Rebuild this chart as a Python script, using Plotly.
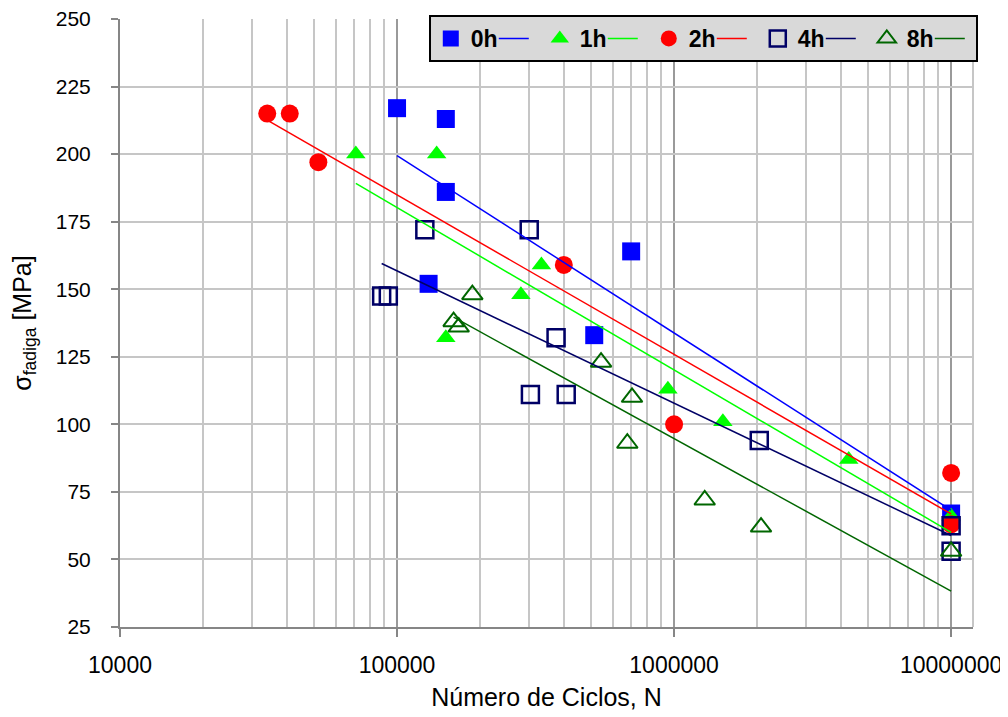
import numpy as np
import plotly.graph_objects as go

# ---- data ----
n_0h = [100000, 150000, 150000, 130000, 700000, 515000, 10000000]
s_0h = [217, 213, 186, 152, 164, 133, 67]

n_1h = [71000, 139000, 150000, 280000, 332000, 950000, 1500000, 4270000, 10000000]
s_1h = [200, 200, 132, 148, 159, 113, 101, 87, 66]

n_2h = [34000, 41000, 52000, 400000, 1000000, 10000000, 10000000]
s_2h = [215, 215, 197, 159, 100, 82, 63]

n_4h = [88000, 93000, 126000, 300000, 375000, 303000, 408000, 2030000, 10000000, 10000000]
s_4h = [147.5, 147.5, 172, 172, 132, 111, 111, 94, 62.5, 53]

n_8h = [187000, 160000, 167000, 545000, 705000, 678000, 1290000, 2060000, 10000000]
s_8h = [148, 138, 136, 123, 110, 93, 72, 62, 53]

series_names = ["0h", "1h", "2h", "4h", "8h"]
x_tickvals = [10000, 100000, 1000000, 10000000]
x_ticktext = ["10000", "100000", "1000000", "10000000"]
y_tickvals = [25, 50, 75, 100, 125, 150, 175, 200, 225, 250]

# ---- styles ----
styles = [
    dict(symbol="square", color="#0000FF", size=18, line=dict(width=0)),
    dict(symbol="triangle-up", color="#00FF00", size=17, line=dict(width=0)),
    dict(symbol="circle", color="#FF0000", size=18, line=dict(width=0)),
    dict(symbol="square-open", color="#000066", size=17, line=dict(width=2.5, color="#000066")),
    dict(symbol="triangle-up-open", color="#006600", size=18, line=dict(width=2, color="#006600")),
]
line_colors = ["#0000FF", "#00FF00", "#FF0000", "#000066", "#006600"]

data = [(n_0h, s_0h), (n_1h, s_1h), (n_2h, s_2h), (n_4h, s_4h), (n_8h, s_8h)]

fig = go.Figure()

# markers first
for i, ((n, s), name) in enumerate(zip(data, series_names)):
    fig.add_trace(go.Scatter(
        x=n, y=s, mode="markers", name=name,
        marker=styles[i], legendrank=10 + 2 * i, legendwidth=18,
    ))

# logarithmic trendlines (least squares on log10 N)
for i, ((n, s), name) in enumerate(zip(data, series_names)):
    lx = np.log10(np.array(n, dtype=float))
    slope, intercept = np.polyfit(lx, np.array(s, dtype=float), 1)
    xs = np.linspace(lx.min(), lx.max(), 20)
    fig.add_trace(go.Scatter(
        x=10 ** xs, y=slope * xs + intercept, mode="lines", name=" ",
        line=dict(color=line_colors[i], width=1.5), legendrank=11 + 2 * i,
        legendwidth=1, hoverinfo="skip",
    ))

fig.update_layout(
    width=1000, height=709,
    margin=dict(l=112, r=35, t=11, b=90, autoexpand=False),
    plot_bgcolor="white", paper_bgcolor="white",
    font=dict(family="Liberation Sans", color="black"),
    legend=dict(
        orientation="h", x=0.362, xanchor="left", y=1.0066, yanchor="top",
        bgcolor="#d9d9d9", bordercolor="black", borderwidth=2,
        font=dict(family="Liberation Sans", size=23, color="black", weight="bold"),
        itemwidth=30, tracegroupgap=0, valign="middle",
    ),
    showlegend=True,
)

fig.update_xaxes(
    type="log", range=[4, 7.079], automargin=False,
    tickmode="array", tickvals=x_tickvals, ticktext=x_ticktext,
    tickfont=dict(size=23, family="Liberation Sans", color="black"),
    ticks="outside", ticklen=8, tickwidth=2, tickcolor="#868686",
    ticklabelstandoff=8, ticklabeloverflow="allow",
    showline=True, linecolor="#868686", linewidth=2,
    showgrid=True, gridcolor="#9a9a9a", gridwidth=2,
    minor=dict(dtick="D1", showgrid=True, gridcolor="#c6c6c6", gridwidth=2, ticks=""),
    zeroline=False,
    title=dict(text="Número de Ciclos, N", font=dict(size=25, family="Liberation Sans", color="black"), standoff=12),
)

fig.update_yaxes(
    range=[25, 250], tickmode="array", tickvals=y_tickvals, automargin=False,
    tickfont=dict(size=21, family="Liberation Sans", color="black"),
    ticks="outside", ticklen=7, tickwidth=2, tickcolor="#868686",
    ticklabelstandoff=16, ticklabeloverflow="allow",
    showline=True, linecolor="#868686", linewidth=2,
    showgrid=True, gridcolor="#c6c6c6", gridwidth=2,
    zeroline=False,
    title=dict(text="σ<sub>fadiga</sub> [MPa]", font=dict(size=25, family="Liberation Sans", color="black"), standoff=20),
)

# right border of the plot area
fig.add_shape(type="line", xref="paper", yref="paper", x0=1, x1=1, y0=0, y1=1,
              line=dict(color="#c6c6c6", width=2), layer="below")

fig.write_html("out.html")
